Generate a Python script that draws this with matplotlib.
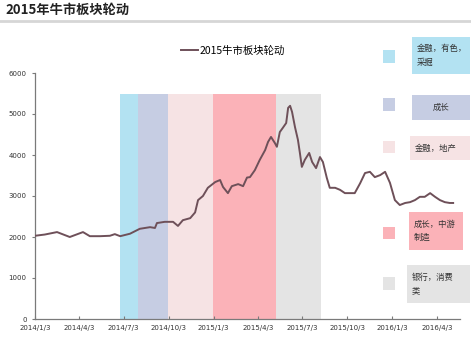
import matplotlib
matplotlib.use("Agg")
import matplotlib.pyplot as plt
from matplotlib.patches import Rectangle
import numpy as np

plt.rcParams['font.family'] = ['Noto Sans CJK SC', 'DejaVu Sans']

# index level
dates = ["2014-01-03", "2014-01-23", "2014-02-17", "2014-03-15", "2014-04-11",
         "2014-04-25", "2014-05-16", "2014-06-05", "2014-06-15", "2014-06-26",
         "2014-07-16", "2014-08-05", "2014-08-26", "2014-09-05", "2014-09-09",
         "2014-09-25", "2014-10-12", "2014-10-22", "2014-11-01", "2014-11-16",
         "2014-11-26", "2014-12-02", "2014-12-12", "2014-12-22", "2015-01-06",
         "2015-01-16", "2015-01-22", "2015-02-01", "2015-02-09", "2015-02-22",
         "2015-03-04", "2015-03-12", "2015-03-18", "2015-03-28", "2015-04-07",
         "2015-04-18", "2015-04-24", "2015-04-30", "2015-05-08", "2015-05-12",
         "2015-05-18", "2015-05-24", "2015-05-31", "2015-06-04", "2015-06-08",
         "2015-06-12", "2015-06-18", "2015-06-24", "2015-06-28", "2015-07-02",
         "2015-07-08", "2015-07-17", "2015-07-23", "2015-07-31", "2015-08-08",
         "2015-08-14", "2015-08-22", "2015-08-28", "2015-09-08", "2015-09-18",
         "2015-09-28", "2015-10-08", "2015-10-18", "2015-10-29", "2015-11-08",
         "2015-11-18", "2015-11-28", "2015-12-09", "2015-12-19", "2015-12-29",
         "2016-01-08", "2016-01-18", "2016-01-29", "2016-02-08", "2016-02-18",
         "2016-02-28", "2016-03-09", "2016-03-20", "2016-03-30", "2016-04-09",
         "2016-04-19", "2016-04-29", "2016-05-06"]
index = [2030, 2060, 2120, 2000, 2120,
         2020, 2020, 2030, 2070, 2020,
         2080, 2200, 2240, 2220, 2340,
         2370, 2370, 2270, 2410, 2460,
         2600, 2900, 3000, 3200, 3340,
         3390, 3220, 3070, 3240, 3290,
         3240, 3450, 3460, 3630, 3880,
         4120, 4320, 4440, 4290, 4200,
         4560, 4660, 4780, 5150, 5200,
         5050, 4680, 4370, 4050, 3710,
         3880, 4050, 3830, 3680, 3950,
         3830, 3440, 3200, 3200, 3150,
         3070, 3070, 3070, 3310, 3560,
         3590, 3460, 3510, 3590, 3320,
         2900, 2780, 2830, 2850, 2900,
         2980, 2980, 3070, 2980, 2900,
         2850, 2830, 2830]

# rotation phases
band_start = ["2014-06-26", "2014-08-01", "2014-10-02", "2015-01-01", "2015-05-10"]
band_end = ["2014-08-01", "2014-10-02", "2015-01-01", "2015-05-10", "2015-08-10"]
band_top = 5500
band_colors = ["#b3e2f2", "#c6cde3", "#f6e3e4", "#fbb2b8", "#e4e4e4"]
band_labels = ["金融，有色，\n采掘", "成长", "金融，地产", "成长，中游\n制造", "银行，消费\n类"]

tick_dates = ["2014-01-03", "2014-04-03", "2014-07-03", "2014-10-03", "2015-01-03",
              "2015-04-03", "2015-07-03", "2015-10-03", "2016-01-03", "2016-04-03"]
tick_labels = ["2014/1/3", "2014/4/3", "2014/7/3", "2014/10/3", "2015/1/3",
               "2015/4/3", "2015/7/3", "2015/10/3", "2016/1/3", "2016/4/3"]
y_ticks = [0, 1000, 2000, 3000, 4000, 5000, 6000]

W, H = 471, 342
fig = plt.figure(figsize=(W / 100, H / 100), dpi=100)
fig.patch.set_facecolor("white")

def px(x, y):
    return x / W, 1 - y / H

ax = fig.add_axes([35 / W, (H - 319) / H, (460 - 35) / W, (319 - 73) / H])

x = np.array(dates, dtype="datetime64[D]")
for s, e, c in zip(band_start, band_end, band_colors):
    xs = np.array([s, e], dtype="datetime64[D]")
    ax.fill_between(xs, 0, band_top, color=c, lw=0, zorder=1)

line, = ax.plot(x, index, color="#6e5059", lw=1.4, zorder=3, label="2015牛市板块轮动")

ax.set_ylim(0, 6000)
ax.set_xlim(np.datetime64("2014-01-03"), np.datetime64("2016-05-20"))
ax.set_yticks(y_ticks)
ax.set_yticklabels([str(v) for v in y_ticks])
ax.set_xticks(np.array(tick_dates, dtype="datetime64[D]"))
ax.set_xticklabels(tick_labels)
for spine in ["top", "right"]:
    ax.spines[spine].set_visible(False)
for spine in ["left", "bottom"]:
    ax.spines[spine].set_color("#7a7a7a")
    ax.spines[spine].set_linewidth(0.9)
ax.tick_params(axis="x", direction="in", length=2, color="#7a7a7a", pad=4,
               labelsize=5, labelcolor="#333333")
ax.tick_params(axis="y", direction="out", length=2, color="#7a7a7a", pad=4,
               labelsize=5, labelcolor="#333333")
for t in ax.get_xticklabels() + ax.get_yticklabels():
    t.set_family(["Liberation Sans Narrow", "DejaVu Sans"])

ax.legend(handles=[line], loc="upper left", bbox_to_anchor=(px(176, 40)), bbox_transform=fig.transFigure,
          frameon=False, fontsize=7.5, handlelength=1.6, handletextpad=0.2, borderpad=0)

# title and separator
fig.text(*px(5, 10), "2015年牛市板块轮动", fontsize=9.5, fontweight="bold",
         color="#222222", va="center", ha="left")
fig.add_artist(plt.Line2D([0, 1], [1 - 21 / H, 1 - 21 / H], color="#d6d6d6", lw=2))

# side legend
squares = [(50, 63), (98, 111), (141, 153), (227, 239), (277, 290)]
boxes = [(412, 37, 470, 74), (412, 95, 470, 120), (410, 136, 470, 160),
         (409, 212, 463, 250), (407, 265, 470, 303)]
for (sy0, sy1), (bx0, by0, bx1, by1), c, lab in zip(squares, boxes, band_colors, band_labels):
    fig.add_artist(Rectangle(px(383, sy1), 12 / W, (sy1 - sy0) / H, color=c,
                             transform=fig.transFigure, lw=0))
    fig.add_artist(Rectangle(px(bx0, by1), (bx1 - bx0) / W, (by1 - by0) / H, color=c,
                             transform=fig.transFigure, lw=0))
    if lab == "成长":
        fig.text(*px((bx0 + bx1) / 2, (by0 + by1) / 2), lab, fontsize=6, color="#333333",
                 ha="center", va="center")
    else:
        fig.text(*px(bx0 + 5, (by0 + by1) / 2), lab, fontsize=6, color="#333333",
                 ha="left", va="center", linespacing=1.6)

fig.savefig("out.png", dpi=100, facecolor="white")
